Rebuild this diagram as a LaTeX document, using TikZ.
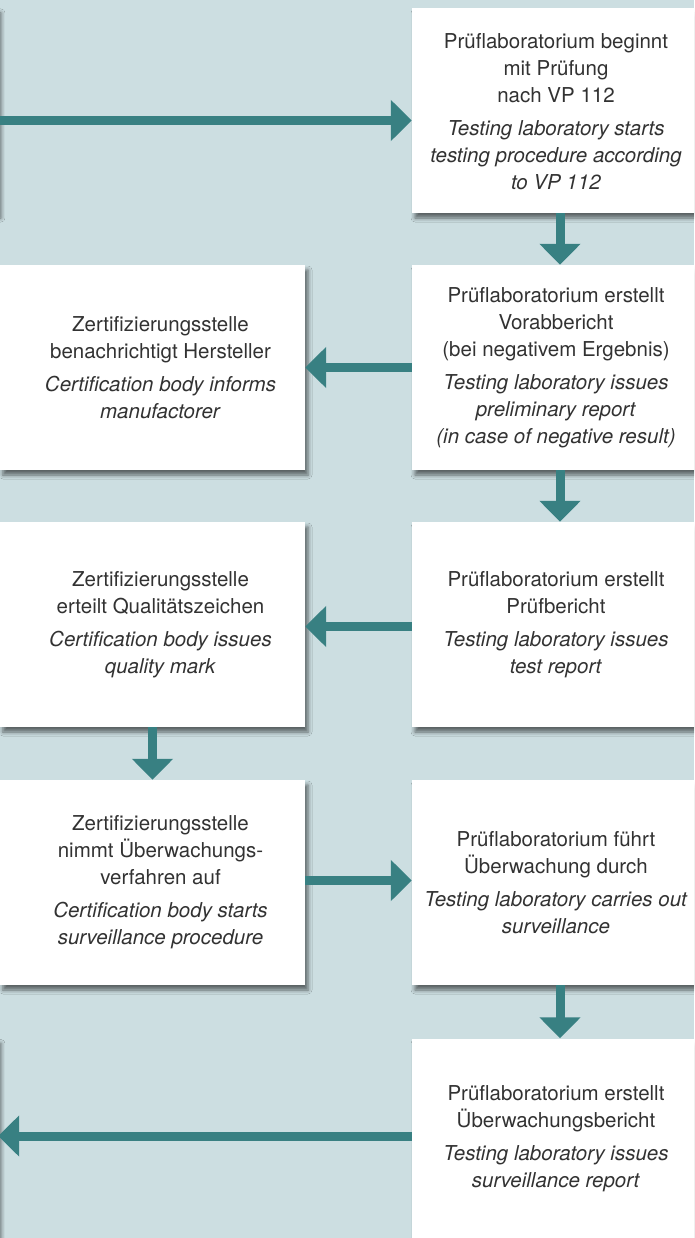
\documentclass[tikz,border=0pt]{standalone}
\usepackage{fontspec}
\setmainfont{TeX Gyre Heros}
\usetikzlibrary{arrows.meta,shadows.blur}

\definecolor{bgblue}{RGB}{204,222,225}
\definecolor{arrteal}{RGB}{56,128,130}
\definecolor{txtgray}{RGB}{50,50,50}

\tikzset{
	stepbox/.style={rectangle, fill=white, inner sep=0pt, minimum height=205pt,
		blur shadow={shadow xshift=3pt, shadow yshift=-5pt, shadow blur radius=4pt, shadow opacity=55}},
	rbox/.style={stepbox, minimum width=288pt},
	lbox/.style={stepbox, minimum width=305pt},
	boxtext/.style={align=center, text=txtgray, inner sep=0pt, font=\fontsize{20.5}{27}\selectfont},
	flow/.style={line width=9pt, draw=arrteal, -{Triangle[width=40pt,length=21pt]}},
}

\begin{document}
\begin{tikzpicture}[x=1pt,y=-1pt]
	\fill[bgblue] (0,0) rectangle (694,1238);
	\useasboundingbox (0,0) rectangle (694,1238);
	\clip (0,0) rectangle (694,1238);

	% boxes cut off at the left border
	\node[stepbox, minimum width=300pt] (prev) at (-152,110.5) {};
	\node[stepbox, minimum width=300pt] (next) at (-152,1141) {};

	% right column: testing laboratory
	\node[rbox] (lab1) at (556,110.5) {};
	\node[rbox] (lab2) at (556,367.5) {};
	\node[rbox] (lab3) at (556,624.5) {};
	\node[rbox] (lab4) at (556,882.5) {};
	\node[rbox] (lab5) at (556,1141) {};

	% left column: certification body
	\node[lbox] (cert1) at (152.5,367.5) {};
	\node[lbox] (cert2) at (152.5,624.5) {};
	\node[lbox] (cert3) at (152.5,882.5) {};

	\node[boxtext] (tlab1) at ([yshift=-1pt]lab1.center) {Prüflaboratorium beginnt\\mit Prüfung\\nach VP 112\\[6pt]
		\textit{Testing laboratory starts}\\\textit{testing procedure according}\\\textit{to VP 112}};
	\node[boxtext] (tlab2) at (lab2) {Prüflaboratorium erstellt\\Vorabbericht\\(bei negativem Ergebnis)\\[6pt]
		\textit{Testing laboratory issues}\\\textit{preliminary report}\\\textit{(in case of negative result)}};
	\node[boxtext] (tlab3) at (lab3) {Prüflaboratorium erstellt\\Prüfbericht\\[6pt]
		\textit{Testing laboratory issues}\\\textit{test report}};
	\node[boxtext] (tlab4) at (lab4) {Prüflaboratorium führt\\Überwachung durch\\[6pt]
		\textit{Testing laboratory carries out}\\\textit{surveillance}};
	\node[boxtext] (tlab5) at ([yshift=2pt]lab5.center) {Prüflaboratorium erstellt\\Überwachungsbericht\\[6pt]
		\textit{Testing laboratory issues}\\\textit{surveillance report}};

	\node[boxtext] (tcert1) at ([xshift=8pt]cert1.center) {Zertifizierungsstelle\\benachrichtigt Hersteller\\[6pt]
		\textit{Certification body informs}\\\textit{manufactorer}};
	\node[boxtext] (tcert2) at ([xshift=8pt]cert2.center) {Zertifizierungsstelle\\erteilt Qualitätszeichen\\[6pt]
		\textit{Certification body issues}\\\textit{quality mark}};
	\node[boxtext] (tcert3) at ([xshift=8pt]cert3.center) {Zertifizierungsstelle\\nimmt Überwachungs-\\verfahren auf\\[6pt]
		\textit{Certification body starts}\\\textit{surveillance procedure}};

	% arrows
	\draw[flow] ([yshift=-10pt]prev.east) -- ([yshift=-10pt]lab1.west);
	\draw[flow] ([xshift=4pt]lab1.south) -- ([xshift=4pt]lab2.north);
	\draw[flow] (lab2.west) -- (cert1.east);
	\draw[flow] ([yshift=-2pt]lab3.west) -- ([yshift=-2pt]cert2.east);
	\draw[flow] ([xshift=4pt]lab2.south) -- ([xshift=4pt]lab3.north);
	\draw[flow] (cert2.south) -- (cert3.north);
	\draw[flow] ([yshift=2pt]cert3.east) -- ([yshift=2pt]lab4.west);
	\draw[flow] ([xshift=4pt]lab4.south) -- ([xshift=4pt]lab5.north);
	\draw[flow] ([yshift=5pt]lab5.west) -- ([yshift=5pt]next.east);
\end{tikzpicture}
\end{document}
